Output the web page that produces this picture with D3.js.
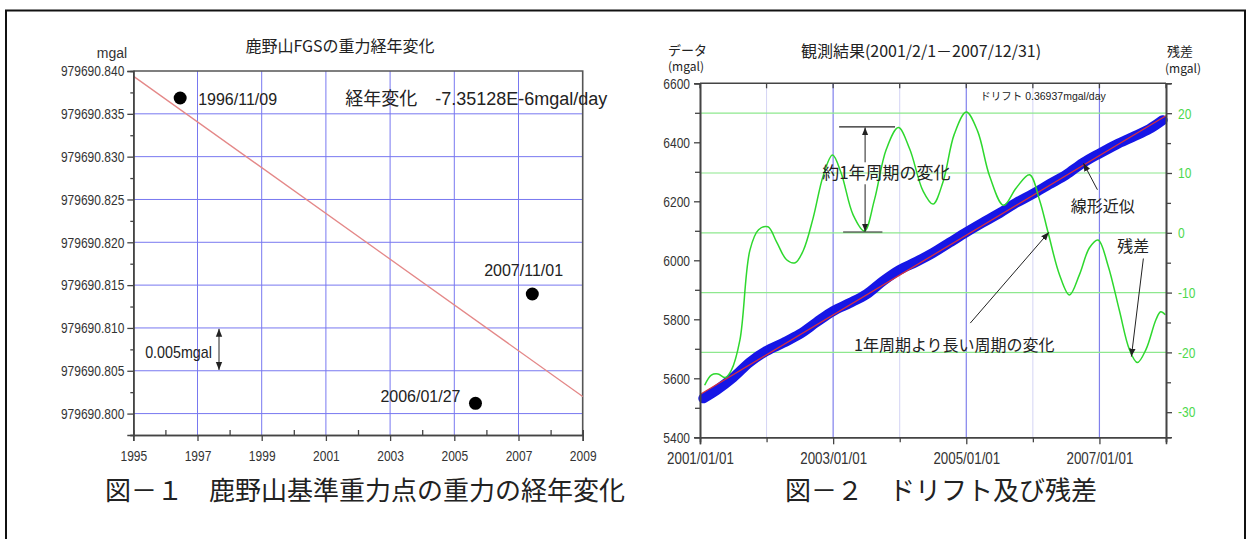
<!DOCTYPE html>
<html><head><meta charset="utf-8">
<script src="https://cdn.jsdelivr.net/npm/d3@7"></script>
<style>body{margin:0;background:#fff}svg{display:block}</style>
</head><body><svg id="c" width="1250" height="539"></svg>
<script>
// ---------- Figure 1 data ----------
const pointLabels = ["1996/11/09", "2006/01/27", "2007/11/01"];
const pointYears  = [1996.46, 2005.66, 2007.43];
const pointValues = [979690.83685, 979690.80120, 979690.81396];
const trendYears  = [1995, 2009];
const trendValues = [979690.8394, 979690.8020];
const fig1YTicks = [979690.800, 979690.805, 979690.810, 979690.815, 979690.820, 979690.825, 979690.830, 979690.835, 979690.840];
const fig1YMinor = [979690.7975, 979690.8025, 979690.8075, 979690.8125, 979690.8175, 979690.8225, 979690.8275, 979690.8325, 979690.8375];
const fig1XTicks = [1995, 1997, 1999, 2001, 2003, 2005, 2007, 2009];
const fig1XMinor = [1996, 1998, 2000, 2002, 2004, 2006, 2008];

// ---------- Figure 2 data ----------
const driftYears  = [2001.05, 2001.25, 2001.5, 2001.75, 2002.0, 2002.25, 2002.5, 2002.75, 2003.0, 2003.25, 2003.5, 2003.75, 2004.0, 2004.25, 2004.5, 2004.75, 2005.0, 2005.25, 2005.5, 2005.75, 2006.0, 2006.25, 2006.5, 2006.75, 2007.0, 2007.25, 2007.5, 2007.75, 2007.95];
const driftValues = [5532, 5560, 5603, 5655, 5693, 5720, 5750, 5790, 5828, 5855, 5885, 5930, 5968, 5995, 6025, 6060, 6095, 6128, 6160, 6195, 6225, 6258, 6290, 6330, 6362, 6392, 6418, 6445, 6475];
const fitYears  = [2001, 2008];
const fitValues = [5545, 6490];
const residualYears  = [2001.07, 2001.17, 2001.27, 2001.38, 2001.47, 2001.60, 2001.75, 2001.88, 2002.02, 2002.15, 2002.30, 2002.43, 2002.55, 2002.70, 2002.85, 2002.99, 2003.12, 2003.30, 2003.47, 2003.62, 2003.80, 2003.98, 2004.15, 2004.35, 2004.50, 2004.65, 2004.82, 2005.00, 2005.17, 2005.35, 2005.56, 2005.75, 2005.95, 2006.10, 2006.23, 2006.40, 2006.55, 2006.70, 2006.85, 2006.98, 2007.13, 2007.30, 2007.45, 2007.57, 2007.70, 2007.85, 2007.92, 2007.99];
const residualValues = [-25.5, -23.8, -23.6, -24.2, -23.0, -17.9, -2.9, 0.5, 1.0, -1.5, -4.5, -5.0, -3.0, 2.5, 9.5, 13.0, 10.0, 3.0, 0.3, 5.5, 14.0, 17.6, 14.0, 7.0, 4.8, 8.5, 16.5, 20.2, 17.0, 9.5, 4.6, 7.5, 9.7, 5.5, 0.0, -7.0, -10.4, -7.0, -2.5, -1.2, -5.5, -13.0, -19.5, -21.7, -19.5, -14.5, -13.2, -13.7];
const fig2LeftTicks  = [5400, 5600, 5800, 6000, 6200, 6400, 6600];
const fig2LeftMinor  = [5500, 5700, 5900, 6100, 6300, 6500];
const fig2RightTicks = [20, 10, 0, -10, -20, -30];
const fig2RightMinor = [15, 5, -5, -15, -25];
const fig2GreenGrid  = [20, 10, 0, -10, -20];
const fig2XTicks      = [2001, 2003, 2005, 2007];
const fig2XTickLabels = ["2001/01/01", "2003/01/01", "2005/01/01", "2007/01/01"];
const fig2XMinor      = [2002, 2004, 2006, 2008];
const fig2GridStrong  = [2003, 2005, 2007];
const fig2GridWeak    = [2002, 2004, 2006];

// ---------- helpers ----------
const LAT = "'Liberation Sans', Arial, 'Noto Sans CJK JP', sans-serif";
const CJK = "'Noto Sans CJK JP', 'Noto Sans CJK SC', sans-serif";
const svg = d3.select("#c");
svg.append("rect").attr("width", 1250).attr("height", 539).attr("fill", "#fff");
const defs = svg.append("defs");
defs.append("marker").attr("id", "ah").attr("viewBox", "0 0 10 10")
  .attr("refX", 10).attr("refY", 5).attr("markerWidth", 8).attr("markerHeight", 8)
  .attr("markerUnits", "userSpaceOnUse").attr("orient", "auto-start-reverse")
  .append("path").attr("d", "M0,1 L10,5 L0,9 z").attr("fill", "#222");

function condense(sel, r) {
  sel.each(function () {
    const L = this.getComputedTextLength();
    if (L > 0) d3.select(this).attr("textLength", L * r).attr("lengthAdjust", "spacingAndGlyphs");
  });
}
function label(g, x, y, s, o = {}) {
  return g.append("text").attr("x", x).attr("y", y).attr("dy", "0.35em")
    .attr("text-anchor", o.anchor || "start").attr("font-family", o.family || CJK)
    .attr("font-size", o.size || 14).attr("fill", o.fill || "#222").text(s);
}
function arrow(g, x1, y1, x2, y2, both) {
  const l = g.append("line").attr("x1", x1).attr("y1", y1).attr("x2", x2).attr("y2", y2)
    .attr("stroke", "#222").attr("stroke-width", 1).attr("marker-end", "url(#ah)");
  if (both) l.attr("marker-start", "url(#ah)");
  return l;
}
function styleAxis(g, color, labelColor) {
  g.select(".domain").attr("stroke", color).attr("stroke-width", 1.6);
  g.selectAll(".tick line").attr("stroke", color).attr("stroke-width", 1.3);
  g.selectAll(".tick text").attr("fill", labelColor || "#333");
}

// ---------- outer frame ----------
svg.append("path").attr("d", "M6,539 V10.5 H1245 V539").attr("fill", "none")
  .attr("stroke", "#111").attr("stroke-width", 2);

// ================= Figure 1 =================
const g1 = svg.append("g");
const x1 = d3.scaleLinear().domain([1995, 2009]).range([133.3, 582.7]);
const y1 = d3.scaleLinear().domain([979690.7975, 979690.840]).range([435, 71]);

g1.selectAll(".hg").data(fig1YTicks.slice(0, -1)).join("line")
  .attr("x1", x1(1995)).attr("x2", x1(2009)).attr("y1", d => y1(d)).attr("y2", d => y1(d))
  .attr("stroke", "#7878f0").attr("stroke-width", 1);
g1.selectAll(".vg").data(fig1XTicks.slice(1, -1)).join("line")
  .attr("y1", y1.range()[0]).attr("y2", y1.range()[1]).attr("x1", d => x1(d)).attr("x2", d => x1(d))
  .attr("stroke", "#7878f0").attr("stroke-width", 1);

// frame top / right
g1.append("path").attr("d", `M${x1(1995)},${y1(979690.840)} H${x1(2009)} V${y1(979690.7975)}`)
  .attr("fill", "none").attr("stroke", "#555").attr("stroke-width", 1.6);

// trend line
g1.append("path").datum(trendYears.map((t, i) => [t, trendValues[i]]))
  .attr("d", d3.line().x(d => x1(d[0])).y(d => y1(d[1])))
  .attr("fill", "none").attr("stroke", "#e48888").attr("stroke-width", 1.3);

// points
const offs = [{dx: 18, dy: 1, a: "start"}, {dx: -15, dy: -6.6, a: "end"}, {dx: -8.7, dy: -23.3, a: "middle"}];
pointYears.forEach((t, i) => {
  g1.append("circle").attr("cx", x1(t)).attr("cy", y1(pointValues[i])).attr("r", 6.5).attr("fill", "#000");
  label(g1, x1(t) + offs[i].dx, y1(pointValues[i]) + offs[i].dy, pointLabels[i], {family: LAT, size: 16, anchor: offs[i].a});
});

// axes
const ax1y = g1.append("g").attr("transform", `translate(${x1(1995)},0)`)
  .call(d3.axisLeft(y1).tickValues(fig1YTicks).tickSize(6).tickPadding(3).tickFormat(d3.format(".3f")));
ax1y.selectAll("text").attr("font-family", LAT).attr("font-size", 15);
styleAxis(ax1y, "#444");
condense(ax1y.selectAll(".tick text"), 0.8);
const ax1ym = g1.append("g").attr("transform", `translate(${x1(1995)},0)`)
  .call(d3.axisLeft(y1).tickValues(fig1YMinor).tickSize(3).tickFormat(""));
styleAxis(ax1ym, "#444");

const ax1x = g1.append("g").attr("transform", `translate(0,${y1(979690.7975)})`)
  .call(d3.axisBottom(x1).tickValues(fig1XTicks).tickSize(6).tickPadding(9).tickFormat(d3.format("d")));
ax1x.selectAll("text").attr("font-family", LAT).attr("font-size", 15);
styleAxis(ax1x, "#444");
condense(ax1x.selectAll(".tick text"), 0.8);
const ax1xm = g1.append("g").attr("transform", `translate(0,${y1(979690.7975)})`)
  .call(d3.axisBottom(x1).tickValues(fig1XMinor).tickSize(-5).tickFormat(""));
styleAxis(ax1xm, "#444");

// texts
label(g1, 112, 53, "mgal", {family: LAT, size: 14, anchor: "middle", fill: "#333"});
label(g1, 340, 46.7, "鹿野山FGSの重力経年変化", {size: 16, anchor: "middle"});
label(g1, x1(2001.6), y1(979690.83681), "経年変化　-7.35128E-6mgal/day", {family: LAT, size: 18});
const t005 = label(g1, x1(1995.37), y1(979690.80721), "0.005mgal", {family: LAT, size: 17});
condense(t005, 0.84);
arrow(g1, x1(1997.67), y1(979690.8099), x1(1997.67), y1(979690.8051), true);

// caption
label(svg, 105, 491, "図－１　鹿野山基準重力点の重力の経年変化", {size: 26, fill: "#222"});

// ================= Figure 2 =================
const g2 = svg.append("g");
const x2 = d3.scaleLinear().domain([2001, 2008]).range([700, 1166]);
const yL = d3.scaleLinear().domain([5400, 6600]).range([437.3, 83.3]);
const yR = d3.scaleLinear().domain([-34.2, 25]).range([437.3, 83.3]);

g2.selectAll(".gw").data(fig2GridWeak).join("line")
  .attr("x1", d => x2(d)).attr("x2", d => x2(d)).attr("y1", yL(5400)).attr("y2", yL(6600))
  .attr("stroke", "#d4d4f4").attr("stroke-width", 1);
g2.selectAll(".gs").data(fig2GridStrong).join("line")
  .attr("x1", d => x2(d)).attr("x2", d => x2(d)).attr("y1", yL(5400)).attr("y2", yL(6600))
  .attr("stroke", "#8080ec").attr("stroke-width", 1.2);
g2.selectAll(".gg").data(fig2GreenGrid).join("line")
  .attr("x1", x2(2001)).attr("x2", x2(2008)).attr("y1", d => yR(d)).attr("y2", d => yR(d))
  .attr("stroke", "#8ee88e").attr("stroke-width", 1.2);

// drift data (thick blue)
g2.append("path").datum(driftYears.map((t, i) => [t, driftValues[i]]))
  .attr("d", d3.line().curve(d3.curveCatmullRom.alpha(0.5)).x(d => x2(d[0])).y(d => yL(d[1])))
  .attr("fill", "none").attr("stroke", "#1616e6").attr("stroke-width", 10)
  .attr("stroke-linecap", "round").attr("stroke-linejoin", "round");
// linear fit
g2.append("path").datum(fitYears.map((t, i) => [t, fitValues[i]]))
  .attr("d", d3.line().x(d => x2(d[0])).y(d => yL(d[1])))
  .attr("fill", "none").attr("stroke", "#d8323c").attr("stroke-width", 1.3);
// residual
g2.append("path").datum(residualYears.map((t, i) => [t, residualValues[i]]))
  .attr("d", d3.line().curve(d3.curveCatmullRom.alpha(0.5)).x(d => x2(d[0])).y(d => yR(d[1])))
  .attr("fill", "none").attr("stroke", "#2ed82e").attr("stroke-width", 1.5);

// frame top with ticks
g2.append("line").attr("x1", x2(2001)).attr("x2", x2(2008)).attr("y1", yL(6600)).attr("y2", yL(6600))
  .attr("stroke", "#444").attr("stroke-width", 1.6);
g2.selectAll(".tt").data(fig2XTicks.concat(fig2XMinor)).join("line")
  .attr("x1", d => x2(d)).attr("x2", d => x2(d)).attr("y1", yL(6600)).attr("y2", yL(6600) + 5)
  .attr("stroke", "#444").attr("stroke-width", 1.3);

const ax2l = g2.append("g").attr("transform", `translate(${x2(2001)},0)`)
  .call(d3.axisLeft(yL).tickValues(fig2LeftTicks).tickSize(6).tickPadding(4).tickFormat(d3.format("d")));
ax2l.selectAll("text").attr("font-family", LAT).attr("font-size", 15);
styleAxis(ax2l, "#444");
condense(ax2l.selectAll(".tick text"), 0.8);
const ax2lm = g2.append("g").attr("transform", `translate(${x2(2001)},0)`)
  .call(d3.axisLeft(yL).tickValues(fig2LeftMinor).tickSize(5).tickFormat(""));
styleAxis(ax2lm, "#444");

const ax2r = g2.append("g").attr("transform", `translate(${x2(2008)},0)`)
  .call(d3.axisRight(yR).tickValues(fig2RightTicks).tickSize(6).tickPadding(6).tickFormat(d => String(d)));
ax2r.selectAll("text").attr("font-family", LAT).attr("font-size", 15);
styleAxis(ax2r, "#444", "#4cd84c");
condense(ax2r.selectAll(".tick text"), 0.8);
const ax2rm = g2.append("g").attr("transform", `translate(${x2(2008)},0)`)
  .call(d3.axisRight(yR).tickValues(fig2RightMinor).tickSize(5).tickFormat(""));
styleAxis(ax2rm, "#444");

const ax2b = g2.append("g").attr("transform", `translate(0,${yL(5400)})`)
  .call(d3.axisBottom(x2).tickValues(fig2XTicks).tickSize(7).tickPadding(7.5).tickFormat((d, i) => fig2XTickLabels[i]));
ax2b.selectAll("text").attr("font-family", LAT).attr("font-size", 16.7);
styleAxis(ax2b, "#444");
condense(ax2b.selectAll(".tick text"), 0.8);
const ax2bm = g2.append("g").attr("transform", `translate(0,${yL(5400)})`)
  .call(d3.axisBottom(x2).tickValues(fig2XMinor).tickSize(5).tickFormat(""));
styleAxis(ax2bm, "#444");

// titles
label(g2, 668, 50, "データ", {size: 13});
label(g2, 668, 66.7, "(mgal)", {size: 12});
label(g2, 921, 51.7, "観測結果(2001/2/1－2007/12/31)", {size: 16, anchor: "middle"});
label(g2, 1167, 51.7, "残差", {size: 13});
label(g2, 1165, 68.3, "(mgal)", {size: 12});
label(g2, x2(2005.21), yR(22.9), "ドリフト  0.36937mgal/day", {family: LAT, size: 10.5});

// annual-variation annotation
const ax = x2(2003.48), topY = yR(17.7), botY = yR(0.13), midY = yR(9.95);
g2.append("line").attr("x1", x2(2003.09)).attr("x2", x2(2003.93)).attr("y1", topY).attr("y2", topY).attr("stroke", "#222").attr("stroke-width", 1.2);
g2.append("line").attr("x1", x2(2003.15)).attr("x2", x2(2003.74)).attr("y1", botY).attr("y2", botY).attr("stroke", "#222").attr("stroke-width", 1.2);
arrow(g2, ax, midY - 11, ax, topY + 0.5);
arrow(g2, ax, midY + 11, ax, botY - 0.5);
label(g2, x2(2003.80), midY, "約1年周期の変化", {size: 17, anchor: "middle"});

// linear fit annotation
label(g2, x2(2007.05), yR(4.4), "線形近似", {size: 16, anchor: "middle"});
arrow(g2, x2(2006.97), yR(7.2), x2(2006.76), yL(6329));
// residual annotation
label(g2, x2(2007.51), yR(-2.2), "残差", {size: 16, anchor: "middle"});
arrow(g2, x2(2007.66), yR(-4.3), x2(2007.48), yR(-20.7));
// long period annotation
label(g2, x2(2004.82), yR(-18.85), "1年周期より長い周期の変化", {size: 16, anchor: "middle"});
arrow(g2, x2(2005.06), yR(-15.1), x2(2006.24), yR(0.08));

// caption
label(svg, 785, 491, "図－２　ドリフト及び残差", {size: 26, fill: "#222"});
</script>
</body></html>
